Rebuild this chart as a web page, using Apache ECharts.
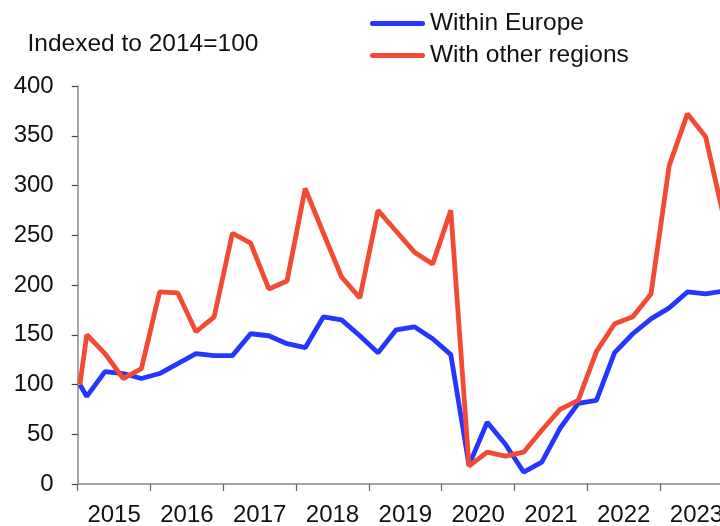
<!DOCTYPE html>
<html>
<head>
<meta charset="utf-8">
<script src="https://cdn.jsdelivr.net/npm/echarts@6/dist/echarts.min.js"></script>
<style>html,body{margin:0;padding:0;background:#fff;overflow:hidden}#c{width:720px;height:526px}</style>
</head>
<body>
<div id="c"></div>
<script>
// Periods: base point (2014=100) then quarters 2015Q1 .. 2023Q4
const periods = ['2014',
  '2015Q1','2015Q2','2015Q3','2015Q4',
  '2016Q1','2016Q2','2016Q3','2016Q4',
  '2017Q1','2017Q2','2017Q3','2017Q4',
  '2018Q1','2018Q2','2018Q3','2018Q4',
  '2019Q1','2019Q2','2019Q3','2019Q4',
  '2020Q1','2020Q2','2020Q3','2020Q4',
  '2021Q1','2021Q2','2021Q3','2021Q4',
  '2022Q1','2022Q2','2022Q3','2022Q4',
  '2023Q1','2023Q2','2023Q3','2023Q4'];
const withinEurope = [100,
  88, 113, 111, 106,
  111, 121, 131, 129,
  129, 151, 149, 141,
  137, 168, 165, 149,
  132, 155, 158, 146,
  130, 19, 62, 40,
  12, 22, 56, 81,
  84, 132, 151, 166,
  177, 193, 191, 194];
const withOtherRegions = [100,
  150, 131, 106, 116,
  193, 192, 153, 168,
  252, 242, 196, 204,
  297, 252, 208, 187,
  275, 254, 233, 221,
  275, 18, 32, 28,
  32, 54, 75, 84,
  133, 161, 168, 191,
  320, 372, 349, 268];
const yearTicks = [2015, 2016, 2017, 2018, 2019, 2020, 2021, 2022, 2023];
const yTicks = [0, 50, 100, 150, 200, 250, 300, 350, 400];

// period -> position on the time scale (quarter midpoints; base point at start)
function periodPos(p) {
  if (p.indexOf('Q') < 0) return Number(p) + 1.03;
  const y = Number(p.slice(0, 4)), q = Number(p.slice(5));
  return y + (q - 0.5) / 4;
}
const toPairs = vals => vals.map((v, i) => [periodPos(periods[i]), v]);

const X_MIN = 2015, X_MAX = 2023.875;   // axis runs past the right edge of the picture
const FONT = "'Liberation Sans', Arial, sans-serif";
const chart = echarts.init(document.getElementById('c'), null, {renderer: 'canvas'});
chart.setOption({
  animation: false,
  backgroundColor: '#ffffff',
  textStyle: {fontFamily: FONT, color: '#000'},
  title: {
    text: 'Indexed to 2014=100',
    left: 27.5, top: 31.5, padding: 0,
    textStyle: {fontFamily: FONT, fontSize: 24.5, fontWeight: 'normal', color: '#111'}
  },
  legend: {
    orient: 'vertical', left: 370, top: 11, padding: 0,
    itemWidth: 55, itemHeight: 5, itemGap: 7,
    icon: 'path://M2.5,0 L52.5,0 A2.5,2.5 0 0 1 52.5,5 L2.5,5 A2.5,2.5 0 0 1 2.5,0 Z',
    textStyle: {fontFamily: FONT, fontSize: 24.5, color: '#111'},
    data: ['Within Europe', 'With other regions']
  },
  grid: {
    left: 77.7, right: 720 - (77.7 + (X_MAX - X_MIN) * 72.8), top: 86, bottom: 42,
    containLabel: false, outerBoundsMode: 'none'
  },
  xAxis: {
    type: 'value',
    min: X_MIN,
    max: X_MAX,
    axisLine: {show: true, lineStyle: {color: '#888', width: 1.5}},
    axisTick: {show: true, length: 7, lineStyle: {color: '#666', width: 1.2}, customValues: yearTicks},
    axisLabel: {
      customValues: yearTicks.map(y => y + 0.5),
      formatter: v => String(Math.floor(v)),
      fontFamily: FONT, fontSize: 24, color: '#111', margin: 19
    },
    splitLine: {show: false}
  },
  yAxis: {
    type: 'value', min: 0, max: 400, interval: 50,
    axisLine: {show: true, lineStyle: {color: '#888', width: 1.5}},
    axisTick: {show: true, length: 6, lineStyle: {color: '#444', width: 1.2}},
    axisLabel: {fontFamily: FONT, fontSize: 24, color: '#111', margin: 24},
    splitLine: {show: false}
  },
  series: [
    {
      name: 'Within Europe', type: 'line', data: toPairs(withinEurope),
      symbol: 'none', clip: true,
      lineStyle: {color: '#2436ff', width: 4.8},
      itemStyle: {color: '#2436ff'}
    },
    {
      name: 'With other regions', type: 'line', data: toPairs(withOtherRegions),
      symbol: 'none', clip: true,
      lineStyle: {color: '#f24a33', width: 4.8},
      itemStyle: {color: '#f24a33'}
    }
  ]
});
</script>
</body>
</html>
